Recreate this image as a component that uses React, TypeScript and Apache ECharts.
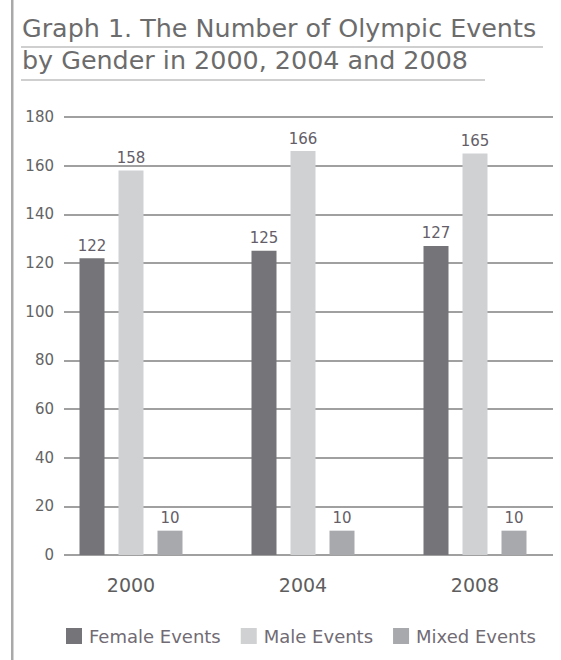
import React, { useEffect, useRef } from "react";
import * as echarts from "echarts";

const years = ["2000", "2004", "2008"];
const femaleEvents = [122, 125, 127];
const maleEvents = [158, 166, 165];
const mixedEvents = [10, 10, 10];
const seriesNames = ["Female Events", "Male Events", "Mixed Events"];
const titleLines = ["Graph 1. The Number of Olympic Events", "by Gender in 2000, 2004 and 2008"];

const FONT = "'DejaVu Sans', 'Open Sans', sans-serif";
const colors = ["#747479", "#d0d1d3", "#a8a9ac"];

export default function App() {
  const ref = useRef<HTMLDivElement>(null);
  useEffect(() => {
    document.body.style.margin = "0";
    const chart = echarts.init(ref.current!, null, { renderer: "svg" });
    const label = {
      show: true,
      position: "top",
      distance: 5,
      color: "#645e68",
      fontSize: 15,
      fontFamily: FONT,
    };
    chart.setOption({
      animation: false,
      backgroundColor: "#ffffff",
      title: {
        text: titleLines.join("\n"),
        left: 22,
        top: 12,
        padding: 0,
        textStyle: {
          fontFamily: FONT,
          fontSize: 25.4,
          fontWeight: "normal",
          color: "#6c6c6c",
          lineHeight: 32,
        },
      },
      graphic: [
        { type: "rect", shape: { x: 11, y: 0, width: 2.5, height: 660 }, style: { fill: "#a9a9a9" } },
        { type: "line", shape: { x1: 21, y1: 47, x2: 543, y2: 47 }, style: { stroke: "#cfcfcf", lineWidth: 2 } },
        { type: "line", shape: { x1: 21, y1: 80, x2: 485, y2: 80 }, style: { stroke: "#cfcfcf", lineWidth: 2 } },
      ],
      legend: {
        data: seriesNames,
        left: 66,
        top: 627,
        padding: 0,
        itemWidth: 16,
        itemHeight: 16,
        itemGap: 20,
        icon: "rect",
        textStyle: { fontFamily: FONT, fontSize: 18, color: "#716b74", padding: [0, 0, 0, 2] },
      },
      grid: [
        { left: 64, right: 8, top: 117, bottom: 105 },
        { left: 45, width: 520, top: 117, bottom: 105 },
      ],
      xAxis: [
        { gridIndex: 0, type: "value", min: 0, max: 1, show: false },
        {
          gridIndex: 1,
          type: "category",
          data: years,
          axisLine: { show: false },
          axisTick: { show: false },
          axisLabel: { fontFamily: FONT, fontSize: 19, color: "#5e5e5e", margin: 20 },
        },
      ],
      yAxis: [
        {
          gridIndex: 0,
          type: "value",
          min: 0,
          max: 180,
          interval: 20,
          axisLine: { show: false },
          axisTick: { show: false },
          axisLabel: { fontFamily: FONT, fontSize: 15, color: "#646464", margin: 10 },
          splitLine: { show: true, lineStyle: { color: "#808080", width: 1.5 } },
        },
        { gridIndex: 1, type: "value", min: 0, max: 180, interval: 20, show: false, splitLine: { show: false } },
      ],
      series: [
        { name: seriesNames[0], type: "bar", xAxisIndex: 1, yAxisIndex: 1, data: femaleEvents, barWidth: 25, barGap: "56%", itemStyle: { color: colors[0] }, label },
        { name: seriesNames[1], type: "bar", xAxisIndex: 1, yAxisIndex: 1, data: maleEvents, barWidth: 25, barGap: "56%", itemStyle: { color: colors[1] }, label },
        { name: seriesNames[2], type: "bar", xAxisIndex: 1, yAxisIndex: 1, data: mixedEvents, barWidth: 25, barGap: "56%", itemStyle: { color: colors[2] }, label },
      ],
    });
    return () => chart.dispose();
  }, []);
  return <div ref={ref} style={{ width: 561, height: 660 }} />;
}
